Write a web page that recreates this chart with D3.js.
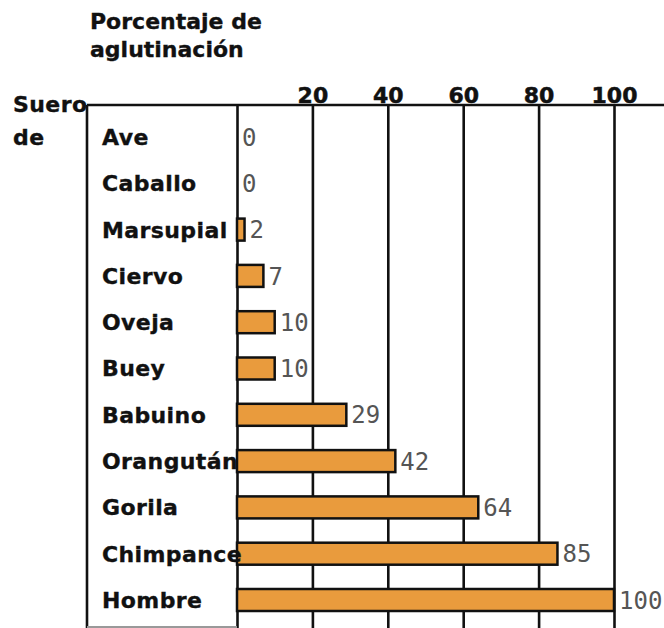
<!DOCTYPE html>
<html>
<head>
<meta charset="utf-8">
<script src="https://cdn.jsdelivr.net/npm/d3@7"></script>
<style>
  body { margin: 0; background: #fff; }
  text { font-family: "DejaVu Sans", sans-serif; }
  .cat { font-weight: bold; font-size: 22px; fill: #111; stroke: #111; stroke-width: 0.35px; letter-spacing: 0.4px; }
  .ttl { font-weight: bold; font-size: 22px; fill: #111; stroke: #111; stroke-width: 0.35px; }
  .val { font-family: "DejaVu Sans Mono", monospace; font-size: 24px; fill: #555; }
  .grid text { font-family: "DejaVu Sans", sans-serif; font-weight: bold; font-size: 22px; fill: #111; stroke: #111; stroke-width: 0.5px; }
</style>
</head>
<body>
<svg id="chart"></svg>
<script>
// serum source and agglutination percentage
var species = ["Ave", "Caballo", "Marsupial", "Ciervo", "Oveja", "Buey",
               "Babuino", "Orangután", "Gorila", "Chimpance", "Hombre"];
var agglutination = [0, 0, 2, 7, 10, 10, 29, 42, 64, 85, 100];
var tickValues = [0, 20, 40, 60, 80, 100];
var titleLines = ["Porcentaje de", "aglutinación"];
var sideLines = ["Suero", "de"];

var width = 664, height = 628;
var frame = {left: 87, top: 105, bottom: 628, right: 664};

var svg = d3.select('#chart')
    .attr("width", width)
    .attr("height", height);

// scales
var x = d3.scaleLinear()
    .domain([0, 100])
    .range([237, 614]);
var y = d3.scalePoint()
    .domain(species)
    .range([137, 600]);
var barH = 22;

// vertical gridlines + tick labels on top
var grid = svg.append("g")
    .attr("class", "grid")
    .attr("transform", "translate(0," + frame.top + ")")
    .call(d3.axisTop(x)
        .tickValues(tickValues)
        .tickSize(-(frame.bottom - frame.top))
        .tickPadding(2)
        .tickFormat(function(d) { return d === 0 ? "" : d; }));
grid.select(".domain").remove();
grid.selectAll(".tick line")
    .attr("stroke", "#111")
    .attr("stroke-width", 2.6);

// frame lines
svg.append("line")
    .attr("x1", frame.left).attr("x2", frame.right)
    .attr("y1", frame.top).attr("y2", frame.top)
    .attr("stroke", "#111").attr("stroke-width", 2.6);
svg.append("line")
    .attr("x1", frame.left).attr("x2", frame.left)
    .attr("y1", frame.top).attr("y2", frame.bottom)
    .attr("stroke", "#111").attr("stroke-width", 2.6);
svg.append("line")
    .attr("x1", frame.left).attr("x2", x(0))
    .attr("y1", 627).attr("y2", 627)
    .attr("stroke", "#999").attr("stroke-width", 2);

// bars
var rows = species.map(function(s, i) { return {name: s, value: agglutination[i]}; });

svg.append("g")
    .selectAll("rect")
    .data(rows.filter(function(d) { return d.value > 0; }))
    .join("rect")
    .attr("x", x(0))
    .attr("y", function(d) { return y(d.name) - barH / 2; })
    .attr("width", function(d) { return x(d.value) - x(0); })
    .attr("height", barH)
    .attr("fill", "#e99b3d")
    .attr("stroke", "#111")
    .attr("stroke-width", 2.5);

// value labels
svg.append("g")
    .selectAll("text")
    .data(rows)
    .join("text")
    .attr("class", "val")
    .attr("x", function(d) { return x(d.value) + 5; })
    .attr("y", function(d) { return y(d.name); })
    .attr("dy", "0.36em")
    .text(function(d) { return d.value; });

// category labels
svg.append("g")
    .selectAll("text")
    .data(rows)
    .join("text")
    .attr("class", "cat")
    .attr("x", 102)
    .attr("y", function(d) { return y(d.name); })
    .attr("dy", "0.36em")
    .text(function(d) { return d.name; });

// titles
svg.append("g")
    .selectAll("text")
    .data(titleLines)
    .join("text")
    .attr("class", "ttl")
    .attr("x", 90)
    .attr("y", function(d, i) { return 29 + i * 28; })
    .text(function(d) { return d; });

svg.append("g")
    .selectAll("text")
    .data(sideLines)
    .join("text")
    .attr("class", "cat")
    .attr("x", 13)
    .attr("y", function(d, i) { return 112 + i * 33; })
    .text(function(d) { return d; });
</script>
</body>
</html>
